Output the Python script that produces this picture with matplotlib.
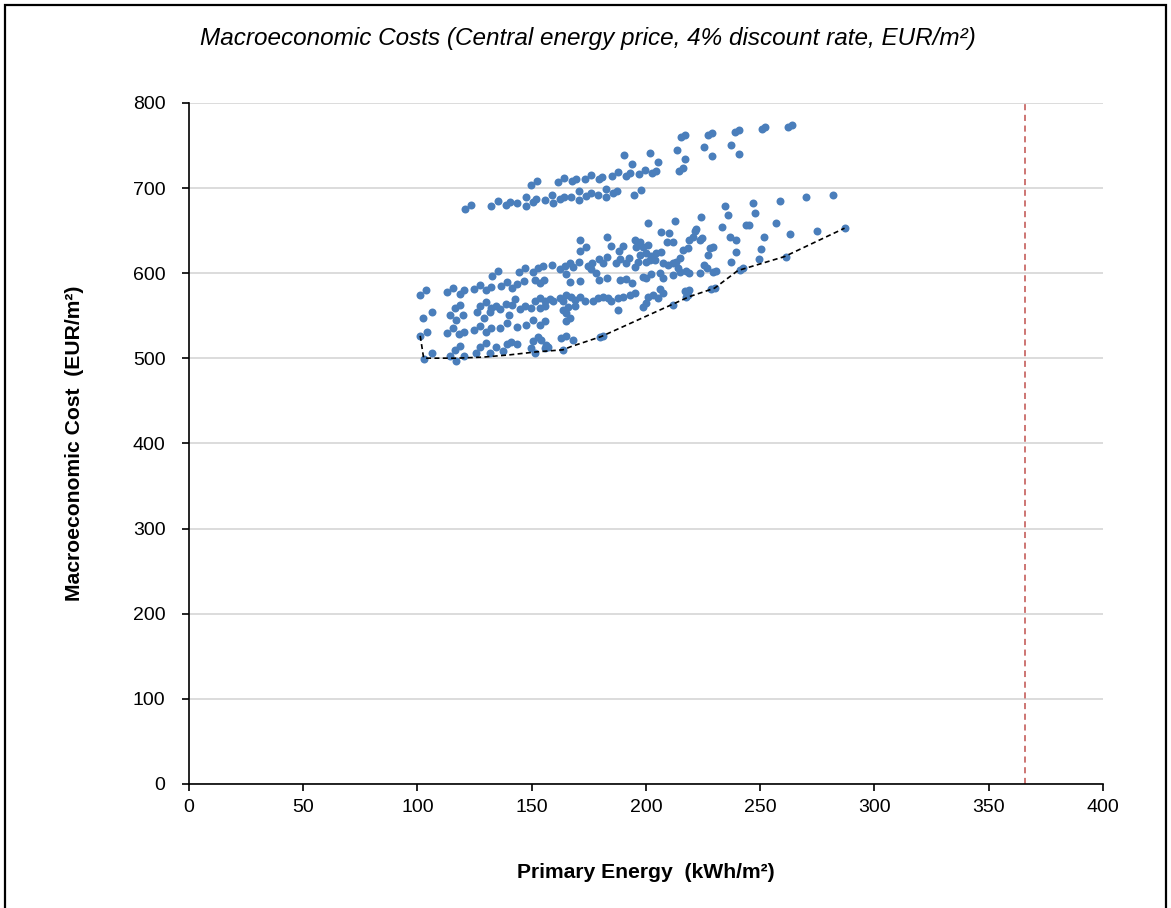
import matplotlib.pyplot as plt
from matplotlib.patches import Rectangle

plt.rcParams['font.family'] = ['Liberation Sans', 'DejaVu Sans']

# upper group of variants (EUR/m2 vs kWh/m2)
upper_x = [120.6, 123.3, 132.0, 135.3, 138.6, 140.6, 143.7, 147.3, 147.6, 150.4,
           152.0, 155.6, 159.0, 159.3, 162.2, 164.1, 167.3, 170.6, 170.9, 173.9,
           175.8, 179.0, 182.6, 182.6, 185.5, 187.4, 194.6, 197.9, 149.8, 152.4,
           161.6, 164.1, 167.6, 169.2, 173.3, 175.8, 179.4, 180.9, 185.1, 187.7,
           191.1, 192.8, 196.8, 199.4, 202.8, 204.5, 190.2, 193.8, 201.9, 205.4,
           214.4, 216.1, 213.7, 217.2, 215.4, 216.9, 225.2, 228.7, 227.1, 228.8,
           237.0, 240.5, 238.8, 240.5, 250.9, 252.3, 262.1, 263.8]
upper_y = [675.9, 680.6, 679.1, 684.9, 680.3, 683.8, 682.6, 689.3, 679.4, 683.8,
           686.9, 685.8, 692.3, 682.6, 687.6, 690.0, 689.3, 696.3, 686.1, 691.2,
           694.0, 692.0, 698.7, 689.3, 694.0, 696.7, 692.0, 697.9, 703.7, 708.4,
           707.3, 711.6, 708.1, 710.8, 710.4, 715.1, 710.8, 713.5, 713.9, 718.6,
           714.3, 717.5, 717.0, 721.0, 717.5, 720.5, 738.6, 728.0, 741.3, 731.1,
           720.2, 723.7, 744.8, 734.3, 759.7, 762.1, 748.4, 737.4, 762.4, 765.1,
           750.7, 740.5, 765.6, 768.7, 769.2, 772.2, 771.8, 774.5]

# lower group of variants
lower_x = [135.4, 132.7, 147.0, 144.4, 101.2, 103.9, 112.9, 115.5, 118.5, 120.2,
           124.7, 127.5, 130.1, 132.2, 136.5, 139.2, 141.5, 143.5, 146.6, 116.3,
           118.5, 114.4, 116.7, 119.9, 102.4, 106.5, 127.5, 129.8, 126.0, 132.3,
           134.2, 128.9, 131.9, 136.2, 138.6, 140.0, 141.5, 142.7, 144.7, 146.9,
           101.2, 104.2, 112.9, 115.5, 118.2, 120.2, 124.6, 127.5, 130.1, 132.2,
           136.2, 139.2, 143.5, 147.6, 102.7, 106.5, 114.4, 116.3, 118.5, 117.0,
           120.2, 125.7, 127.5, 130.1, 131.9, 134.2, 137.4, 139.2, 141.1, 143.5,
           171.2, 173.9, 171.2, 182.9, 184.8, 189.9, 188.2, 195.0, 195.8,
           150.5, 152.7, 154.9, 159.0, 162.2, 164.4, 166.6, 168.0, 170.7, 174.6,
           176.5, 179.4, 181.2, 182.9, 187.0, 188.7, 191.1, 192.5, 195.0, 196.5,
           165.1, 176.1, 178.0, 151.3, 153.5, 155.2, 166.6, 171.2, 179.4, 182.9,
           188.5, 191.1, 194.0, 149.8, 151.3, 153.5, 155.6, 157.8, 159.3, 162.2,
           163.7, 165.1, 167.3, 168.8, 171.0, 173.1, 176.8, 179.0, 181.2, 183.4,
           184.8, 187.7, 189.9, 192.8, 195.0, 153.5, 155.6, 163.7, 165.8, 168.8,
           187.7, 150.5, 153.5, 155.6, 165.1, 165.1, 166.6, 150.5, 152.7, 154.2,
           156.4, 149.8, 151.3, 155.6, 157.1, 163.7, 162.9, 165.1, 168.0, 179.7,
           181.2,
           200.9, 212.5, 224.2, 234.4, 235.9, 243.9, 233.4, 206.7, 210.0, 209.2,
           211.8, 197.2, 198.7, 200.9, 218.8, 220.5, 221.3, 222.0, 223.8, 224.6,
           236.6, 239.5, 239.2, 197.2, 200.1, 202.3, 204.5, 206.7, 216.2, 218.4,
           227.8, 229.3, 227.1, 215.0, 200.1, 201.6, 203.8, 207.4, 209.6, 211.8,
           213.2, 225.6, 226.7, 237.3, 214.0, 214.7, 217.6, 218.8, 223.5, 229.3,
           230.5, 241.0, 242.4, 198.7, 200.1, 202.3, 206.0, 207.4, 211.8, 216.9,
           218.8, 198.7, 200.1, 200.9, 203.0, 206.0, 207.4, 205.2, 211.8, 217.3,
           218.4, 228.6, 230.0,
           246.8, 247.5, 245.0, 251.5, 250.4, 249.4, 258.5, 256.7, 263.1, 261.1,
           270.1, 274.8, 281.8, 286.9]
lower_y = [602.7, 597.2, 605.8, 601.1, 574.5, 580.0, 577.7, 583.1, 576.1, 580.0,
           581.6, 586.3, 580.0, 583.5, 584.7, 590.2, 582.4, 587.1, 591.0, 558.9,
           562.8, 551.0, 545.2, 551.0, 547.9, 554.2, 562.0, 566.7, 554.2, 558.9,
           562.0, 547.9, 554.2, 558.1, 563.6, 551.0, 562.8, 569.4, 558.1, 562.0,
           526.4, 531.5, 529.5, 535.4, 528.3, 531.5, 533.4, 538.5, 531.5, 535.4,
           536.2, 541.3, 537.3, 539.3, 499.4, 506.4, 502.9, 509.9, 515.0, 496.3,
           502.9, 506.0, 513.9, 517.8, 506.0, 513.9, 509.2, 516.6, 519.0, 516.6,
           639.2, 631.3, 626.6, 642.3, 632.1, 632.1, 626.6, 639.2, 631.3,
           602.0, 605.9, 608.6, 609.8, 604.7, 608.6, 611.8, 607.1, 613.3, 608.6,
           612.5, 616.5, 612.5, 619.6, 612.5, 616.5, 611.8, 617.6, 607.8, 613.7,
           599.2, 604.7, 600.8, 592.2, 588.3, 592.2, 590.2, 591.4, 592.2, 594.1,
           592.2, 593.0, 588.3, 558.9, 566.8, 570.7, 567.9, 569.5, 566.8, 570.7,
           566.8, 574.6, 572.6, 568.7, 572.6, 567.9, 566.8, 570.7, 572.6, 570.7,
           567.9, 570.7, 572.6, 574.6, 576.5, 558.9, 561.7, 557.0, 560.9, 561.7,
           557.0, 545.2, 539.3, 543.3, 553.0, 544.4, 547.2, 519.8, 525.6, 521.7,
           515.9, 512.0, 506.1, 512.0, 513.9, 510.0, 523.7, 526.4, 521.7, 524.9,
           526.4,
           658.7, 661.8, 665.7, 679.1, 668.5, 656.7, 654.0, 648.9, 647.0, 637.2,
           637.2, 637.2, 631.3, 633.3, 639.1, 642.3, 650.1, 651.7, 639.1, 641.1,
           643.0, 639.1, 625.4, 621.5, 623.5, 620.3, 623.5, 625.4, 627.4, 629.3,
           629.3, 631.3, 621.5, 617.6, 613.7, 615.6, 615.6, 611.7, 609.8, 611.7,
           613.7, 609.8, 605.9, 613.7, 605.9, 601.9, 603.1, 600.0, 600.8, 601.9,
           603.1, 603.9, 605.9, 596.1, 594.1, 599.2, 600.0, 594.1, 598.0, 579.6,
           580.4, 560.9, 564.8, 572.6, 574.6, 581.2, 576.5, 570.6, 562.8, 572.6,
           574.6, 581.2, 582.4,
           682.2, 671.2, 656.8, 642.3, 628.2, 616.4, 685.3, 659.5, 646.2, 618.8,
           689.2, 650.1, 692.0, 652.8]

# cost-optimal frontier (dashed)
front_x = [101.2, 102.7, 117.0, 128.6, 140.3, 152.0, 163.6, 167.3, 180.4,
           219.1, 230.0, 240.2, 260.6, 286.9]
front_y = [526.4, 500.2, 500.2, 501.4, 504.1, 507.6, 510.0, 513.9, 525.6,
           572.6, 582.4, 603.1, 619.5, 652.9]

reference_pe = 366

fig = plt.figure(figsize=(11.71, 9.08), dpi=100)
ax = fig.add_axes([0.1614, 0.1366, 0.7805, 0.75])

blue = '#4A7EBB'
ax.scatter(upper_x, upper_y, s=33, color=blue, linewidths=0, zorder=3)
ax.scatter(lower_x, lower_y, s=33, color=blue, linewidths=0, zorder=3)
ax.plot(front_x, front_y, color='black', linestyle=(0, (3, 2)), linewidth=1.2, zorder=4)
ax.axvline(reference_pe, color='#C0504D', linestyle=(0, (4, 3)), linewidth=1.1, zorder=2)

ax.set_xlim(0, 400)
ax.set_ylim(0, 800)
ax.set_xticks(range(0, 401, 50))
ax.set_yticks(range(0, 801, 100))
ax.grid(axis='y', color='#D9D9D9', linewidth=1.3)
ax.set_axisbelow(True)
for side in ['top', 'right']:
    ax.spines[side].set_visible(False)
ax.spines['left'].set_linewidth(1.2)
ax.spines['bottom'].set_linewidth(1.2)
ax.tick_params(axis='both', direction='out', length=5, width=1.2, labelsize=14)
ax.tick_params(axis='x', pad=6)
ax.tick_params(axis='y', pad=12)

ax.set_xlabel('Primary Energy  (kWh/m²)', fontsize=15.2, fontweight='bold', labelpad=34)
ax.set_ylabel('Macroeconomic Cost  (EUR/m²)', fontsize=15.2, fontweight='bold', labelpad=35)
fig.text(0.502, 0.958, 'Macroeconomic Costs (Central energy price, 4% discount rate, EUR/m²)',
         ha='center', va='center', fontsize=17.5, style='italic')

fig.patches.append(Rectangle((5 / 1171, -0.02), 1161 / 1171, 1.02 - 5 / 908,
                             transform=fig.transFigure, fill=False,
                             edgecolor='black', linewidth=1.6))

fig.savefig('out.png', dpi=100)
